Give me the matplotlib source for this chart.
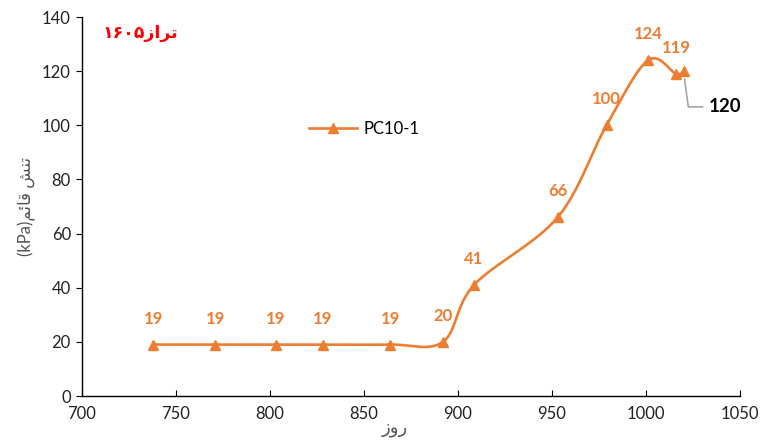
import numpy as np
import matplotlib
matplotlib.use("Agg")
import matplotlib.pyplot as plt

plt.rcParams['font.family'] = ['Lato', 'DejaVu Sans']

# Measurements of series PC10-1
days = [738, 771, 803, 828, 864, 892, 908.5, 953, 979, 1001, 1016, 1020]
stress = [19, 19, 19, 19, 19, 20, 41, 66, 100, 124, 119, 120]
series_name = "PC10-1"

title_text = "۱۶۰۵ﺯﺍﺮﺗ"          # تراز۱۶۰۵ (visual order, shaped)
xlabel_text = "ﺯﻭﺭ"              # روز
ylabel_text = "(kPa)ﻢﺋﺎﻗ ﺶﻨﺗ"     # تنش قائم(kPa)

xlim = (700, 1050)
ylim = (0, 140)
xticks = [700, 750, 800, 850, 900, 950, 1000, 1050]
yticks = [0, 20, 40, 60, 80, 100, 120, 140]

ORANGE = "#ED7D31"

fig = plt.figure(figsize=(7.6, 4.44), dpi=100)
ax = fig.add_axes([82 / 760, 48 / 444, 658 / 760, 379 / 444])
ax.set_xlim(*xlim)
ax.set_ylim(*ylim)


def smooth_curve(xs, ys, ax, n=40):
    """Catmull-Rom style smoothing done in display space (like spreadsheet smoothed lines)."""
    pts = ax.transData.transform(np.column_stack([xs, ys]))
    out = [pts[0]]
    m = len(pts)
    for i in range(m - 1):
        p0 = pts[i - 1] if i > 0 else pts[i]
        p1 = pts[i]
        p2 = pts[i + 1]
        p3 = pts[i + 2] if i + 2 < m else pts[i + 1]
        c1 = p1 + (p2 - p0) / 6.0
        c2 = p2 - (p3 - p1) / 6.0
        t = np.linspace(0, 1, n)[1:, None]
        seg = ((1 - t) ** 3) * p1 + 3 * ((1 - t) ** 2) * t * c1 + 3 * (1 - t) * t ** 2 * c2 + t ** 3 * p2
        out.extend(seg)
    out = np.array(out)
    return ax.transData.inverted().transform(out)


curve = smooth_curve(days, stress, ax)
ax.plot(curve[:, 0], curve[:, 1], color=ORANGE, lw=1.9, solid_capstyle="round", zorder=3)
ax.plot(days, stress, linestyle="none", marker="^", ms=7, color=ORANGE, zorder=4)
# legend proxy
ax.plot([], [], color=ORANGE, lw=1.9, marker="^", ms=7, label=series_name)

# data labels (last point labelled separately with a leader line)
for x, y in zip(days[:-1], stress[:-1]):
    ax.annotate(f"{y:g}", (x, y), xytext=(0, 13), textcoords="offset points",
                ha="center", va="bottom", color=ORANGE, fontsize=12, fontweight="bold")

# last label, pulled out to the right with a leader line
label_x, label_y = 1033.5, 106.8
ax.text(label_x, label_y, f"{stress[-1]:g}", ha="left", va="center",
        fontsize=13.5, fontweight="bold", color="black")
ax.plot([days[-1] + 0.5, days[-1] + 2.5, label_x - 3.5],
        [stress[-1] - 3, label_y, label_y], color="#A5A5A5", lw=1.2, zorder=2)

ax.set_xticks(xticks)
ax.set_yticks(yticks)
ax.tick_params(axis="x", direction="in", length=4, labelsize=12, pad=7, color="black")
ax.tick_params(axis="y", direction="out", length=4, labelsize=12, pad=4, color="black")
for lab in ax.get_xticklabels() + ax.get_yticklabels():
    lab.set_color("#222222")

for s in ("top", "right"):
    ax.spines[s].set_visible(False)
ax.spines["left"].set_color("black")
ax.spines["bottom"].set_color("black")
ax.spines["left"].set_linewidth(1.0)
ax.spines["bottom"].set_linewidth(1.0)

ax.set_xlabel(xlabel_text, family=["DejaVu Sans"], fontsize=13, color="#555555")
ax.xaxis.set_label_coords(0.475, -0.062)
ax.set_ylabel(ylabel_text, family=["Lato", "DejaVu Sans"], fontsize=12, color="#555555")
ax.yaxis.set_label_coords(-0.07, 0.5)

fig.text(140 / 760, 1 - 33 / 444, title_text, family=["DejaVu Sans"], color="#FF0000",
         fontsize=12.5, fontweight="bold", ha="center", va="center")

leg = ax.legend(loc="center", bbox_to_anchor=((364 - 82) / 658, (396 - 129) / 379),
                frameon=False, fontsize=12, handlelength=2.9, handletextpad=0.4)

fig.savefig("out.png", dpi=100)
